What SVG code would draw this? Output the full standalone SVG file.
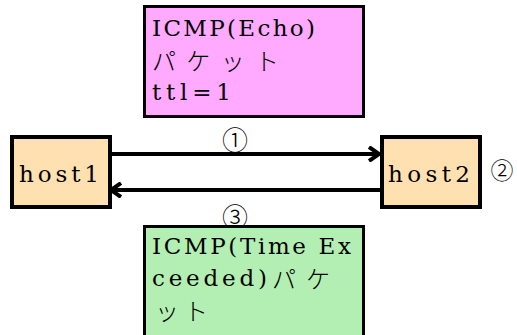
<svg xmlns="http://www.w3.org/2000/svg" width="517" height="335" viewBox="0 0 517 335">
<style>
.t{font-family:"DejaVu Serif","Liberation Serif",serif;font-size:23px;fill:#000}
.j{font-family:"Noto Sans CJK JP",sans-serif;font-size:24px;font-weight:300;fill:#000}
.n{font-family:"Noto Sans CJK JP",sans-serif;font-size:26px;font-weight:300;fill:#000;text-anchor:middle}
.host{fill:#ffe0b0;stroke:#000;stroke-width:4}
.conn{stroke:#000;stroke-width:4;fill:none}
</style>
<defs>
<marker id="ah" viewBox="0 0 12 16" refX="11" refY="8" markerWidth="12" markerHeight="16" markerUnits="userSpaceOnUse" orient="auto">
<path d="M1,1 L11,8 L1,15" fill="none" stroke="#000" stroke-width="4"/>
</marker>
</defs>
<g id="echo">
<rect x="144.5" y="6.5" width="219" height="110" fill="#ffaaff" stroke="#000" stroke-width="3"/>
<text class="t" x="152" y="36" textLength="163" lengthAdjust="spacing">ICMP(Echo)</text>
<text class="j" x="152" y="70" textLength="127" lengthAdjust="spacing">パケット</text>
<text class="t" x="152" y="100" textLength="79" lengthAdjust="spacing">ttl=1</text>
</g>
<g id="host1">
<rect class="host" x="12" y="137" width="98" height="70"/>
<text class="t" x="19" y="182" textLength="80" lengthAdjust="spacing">host1</text>
</g>
<g id="host2">
<rect class="host" x="382" y="137" width="98" height="70"/>
<text class="t" x="388" y="182" textLength="82" lengthAdjust="spacing">host2</text>
</g>
<g id="connectors">
<line class="conn" x1="110" y1="154" x2="379" y2="154" marker-end="url(#ah)"/>
<line class="conn" x1="380" y1="190" x2="111" y2="190" marker-end="url(#ah)"/>
</g>
<g id="labels">
<text class="n" x="235" y="150">①</text>
<text class="n" x="502" y="179" style="font-size:23px">②</text>
<text class="n" x="235" y="227">③</text>
</g>
<g id="exceeded">
<rect x="144.5" y="226.5" width="219" height="112" fill="#b3efb3" stroke="#000" stroke-width="3"/>
<text class="t" x="152" y="254" textLength="199" lengthAdjust="spacing">ICMP(Time Ex</text>
<text class="t" x="152" y="286" textLength="115" lengthAdjust="spacing">ceeded)</text>
<text class="j" x="272" y="288" textLength="58" lengthAdjust="spacing">パケ</text>
<text class="j" x="155" y="320" textLength="53" lengthAdjust="spacing">ット</text>
</g>
</svg>
